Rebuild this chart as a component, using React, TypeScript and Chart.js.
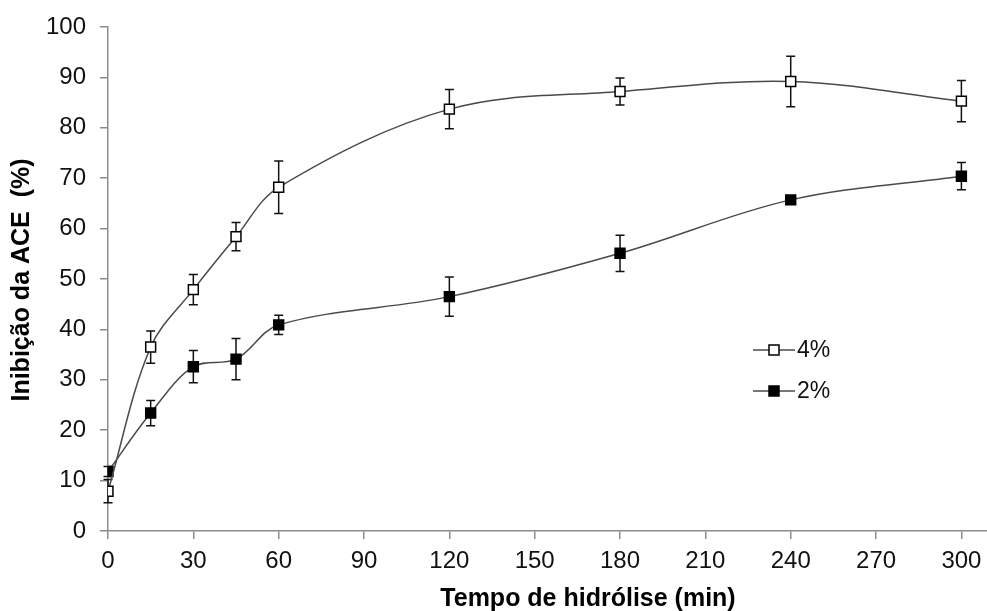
import React, { useEffect, useRef } from "react";
import { Chart, registerables } from "chart.js";

Chart.register(...registerables);

// ---- data ----
const times = [0, 15, 30, 45, 60, 120, 180, 240, 300];
const inh4 = [7.9, 36.5, 47.9, 58.4, 68.2, 83.7, 87.2, 89.2, 85.3];
const err4 = [2.3, 3.2, 3.0, 2.8, 5.2, 3.9, 2.7, 5.0, 4.1];
const inh2 = [11.8, 23.4, 32.6, 34.1, 40.9, 46.5, 55.1, 65.7, 70.4];
const err2 = [1.0, 2.5, 3.2, 4.1, 1.9, 3.9, 3.6, 0.5, 2.7];
const xTicks = [0, 30, 60, 90, 120, 150, 180, 210, 240, 270, 300];
const yTicks = [0, 10, 20, 30, 40, 50, 60, 70, 80, 90, 100];
const seriesLabels = ["4%", "2%"];
const xTitle = "Tempo de hidrólise (min)";
const yTitle = "Inibição da ACE  (%)";

const FONT = "'Liberation Sans', Arial, sans-serif";
const LINE_COLOR = "#4a4a4a";
const AXIS_COLOR = "#8c8c8c";

const errorBarPlugin = {
  id: "errorBars",
  beforeDatasetsDraw(chart: any) {
    const ctx = chart.ctx;
    const xs = chart.scales.x;
    const ys = chart.scales.y;
    const sets = [
      { v: inh4, e: err4 },
      { v: inh2, e: err2 },
    ];
    ctx.save();
    ctx.strokeStyle = "#111";
    ctx.lineWidth = 1.5;
    sets.forEach((s) => {
      times.forEach((t, i) => {
        const px = xs.getPixelForValue(t);
        const top = ys.getPixelForValue(s.v[i] + s.e[i]);
        const bot = ys.getPixelForValue(s.v[i] - s.e[i]);
        ctx.beginPath();
        ctx.moveTo(px, top);
        ctx.lineTo(px, bot);
        ctx.moveTo(px - 4.5, top);
        ctx.lineTo(px + 4.5, top);
        ctx.moveTo(px - 4.5, bot);
        ctx.lineTo(px + 4.5, bot);
        ctx.stroke();
      });
    });
    ctx.restore();
  },
};

const decorPlugin = {
  id: "decor",
  afterDraw(chart: any) {
    const ctx = chart.ctx;
    ctx.save();
    // axis titles
    ctx.fillStyle = "#000";
    ctx.font = `bold 25px ${FONT}`;
    ctx.textAlign = "center";
    ctx.textBaseline = "middle";
    ctx.fillText(xTitle, 588, 599);
    ctx.translate(22, 280);
    ctx.rotate(-Math.PI / 2);
    ctx.fillText(yTitle, 0, 0);
    ctx.restore();

    // legend
    ctx.save();
    const rows = [
      { label: seriesLabels[0], y: 350, fill: "#fff" },
      { label: seriesLabels[1], y: 391, fill: "#000" },
    ];
    rows.forEach((r) => {
      ctx.strokeStyle = LINE_COLOR;
      ctx.lineWidth = 1.5;
      ctx.beginPath();
      ctx.moveTo(753, r.y);
      ctx.lineTo(795, r.y);
      ctx.stroke();
      ctx.fillStyle = r.fill;
      ctx.fillRect(769, r.y - 5, 10, 10);
      ctx.strokeStyle = "#000";
      ctx.strokeRect(769, r.y - 5, 10, 10);
      ctx.fillStyle = "#111";
      ctx.font = `23px ${FONT}`;
      ctx.textAlign = "left";
      ctx.textBaseline = "middle";
      ctx.fillText(r.label, 797, r.y + 1);
    });
    ctx.restore();
  },
};

export default function App() {
  const ref = useRef<HTMLCanvasElement | null>(null);

  useEffect(() => {
    if (!ref.current) return;
    const chart = new Chart(ref.current, {
      type: "line",
      data: {
        datasets: [
          {
            label: seriesLabels[0],
            data: times.map((t, i) => ({ x: t, y: inh4[i] })),
            borderColor: LINE_COLOR,
            borderWidth: 1.5,
            tension: 0.35,
            pointStyle: "rect",
            pointRadius: 7,
            pointBackgroundColor: "#fff",
            pointBorderColor: "#000",
            pointBorderWidth: 1.5,
            fill: false,
          },
          {
            label: seriesLabels[1],
            data: times.map((t, i) => ({ x: t, y: inh2[i] })),
            borderColor: LINE_COLOR,
            borderWidth: 1.5,
            tension: 0.35,
            pointStyle: "rect",
            pointRadius: 7,
            pointBackgroundColor: "#000",
            pointBorderColor: "#000",
            pointBorderWidth: 1.5,
            fill: false,
          },
        ],
      },
      options: {
        responsive: false,
        animation: false,
        devicePixelRatio: 1,
        layout: { autoPadding: false, padding: { top: 27, right: 0, left: 0, bottom: 0 } },
        plugins: {
          legend: { display: false },
          tooltip: { enabled: false },
        },
        scales: {
          x: {
            type: "linear",
            min: 0,
            max: 309,
            afterBuildTicks: (scale: any) => {
              scale.ticks = xTicks.map((v) => ({ value: v }));
            },
            afterFit: (scale: any) => {
              scale.height = 80;
              scale.paddingLeft = 0;
              scale.paddingRight = 0;
            },
            grid: {
              drawOnChartArea: false,
              drawTicks: true,
              tickLength: 8,
              color: AXIS_COLOR,
              lineWidth: 1.5,
            },
            border: { display: true, color: AXIS_COLOR, width: 1.5 },
            ticks: {
              font: { family: FONT, size: 24 },
              color: "#111",
              padding: 8,
              maxRotation: 0,
              autoSkip: false,
            },
          },
          y: {
            type: "linear",
            min: 0,
            max: 100,
            afterBuildTicks: (scale: any) => {
              scale.ticks = yTicks.map((v) => ({ value: v }));
            },
            afterFit: (scale: any) => {
              scale.width = 108;
              scale.paddingTop = 0;
              scale.paddingBottom = 0;
            },
            grid: {
              drawOnChartArea: false,
              drawTicks: true,
              tickLength: 8,
              color: AXIS_COLOR,
              lineWidth: 1.5,
            },
            border: { display: true, color: AXIS_COLOR, width: 1.5 },
            ticks: {
              font: { family: FONT, size: 24 },
              color: "#111",
              padding: 14,
              autoSkip: false,
            },
          },
        },
      },
      plugins: [errorBarPlugin, decorPlugin],
    } as any);
    return () => chart.destroy();
  }, []);

  return (
    <div style={{ position: "fixed", left: 0, top: 0, width: 987, height: 611, background: "#fff" }}>
      <canvas ref={ref} width={987} height={611} />
    </div>
  );
}
